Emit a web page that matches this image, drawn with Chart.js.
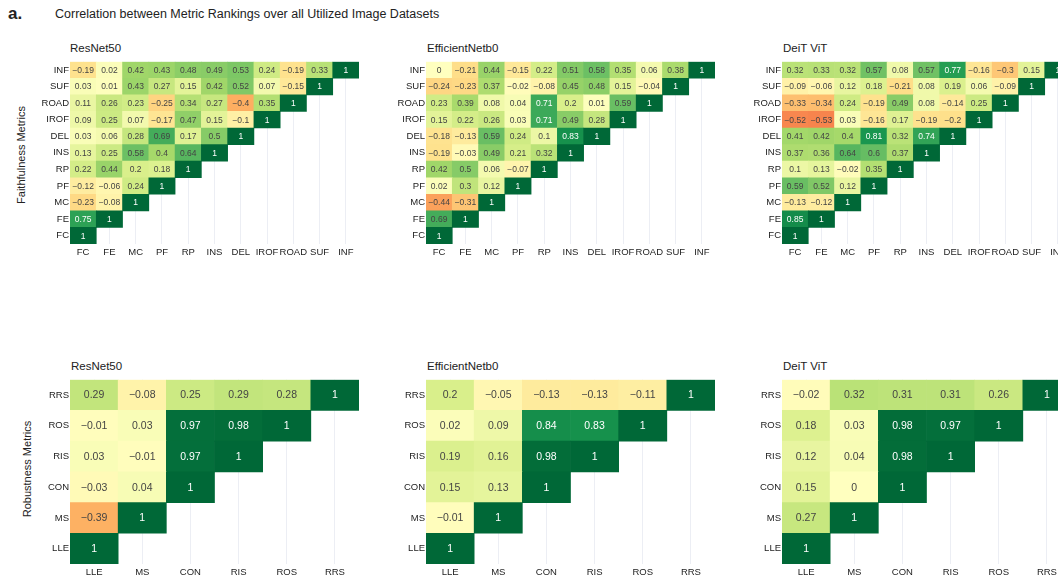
<!DOCTYPE html>
<html>
<head>
<meta charset="utf-8">
<script src="https://cdn.jsdelivr.net/npm/chart.js@4.4.1/dist/chart.umd.min.js"></script>
<style>
	html, body { margin: 0; padding: 0; background: #fff; }
	body { width: 1058px; height: 579px; overflow: hidden; position: relative; font-family: "Liberation Sans", Arial, sans-serif; color: #222; }
	canvas { position: absolute; }
	.t { position: absolute; white-space: nowrap; line-height: 1; }
	.ax { position: absolute; white-space: nowrap; line-height: 1; font-size: 11px; transform: translate(-50%, -50%) rotate(-90deg); }
</style>
</head>
<body>
<div class="t" style="left:8px;top:5px;font-size:17px;font-weight:bold;">a.</div>
<div class="t" style="left:55px;top:8px;font-size:12.5px;">Correlation between Metric Rankings over all Utilized Image Datasets</div>

<div class="ax" style="left:21px;top:155px;">Faithfulness Metrics</div>
<div class="ax" style="left:27px;top:469px;">Robustness Metrics</div>

<div class="t" style="left:70px;top:43px;font-size:11.5px;">ResNet50</div>
<div class="t" style="left:427px;top:43px;font-size:11.5px;">EfficientNetb0</div>
<div class="t" style="left:783px;top:43px;font-size:11.5px;">DeiT ViT</div>
<div class="t" style="left:71px;top:361px;font-size:11.5px;">ResNet50</div>
<div class="t" style="left:427px;top:361px;font-size:11.5px;">EfficientNetb0</div>
<div class="t" style="left:783px;top:361px;font-size:11.5px;">DeiT ViT</div>

<canvas id="f1"></canvas>
<canvas id="f2"></canvas>
<canvas id="f3"></canvas>
<canvas id="r1"></canvas>
<canvas id="r2"></canvas>
<canvas id="r3"></canvas>

<script>
// Metric names (bottom row of each matrix first)
const FAITH = ["FC", "FE", "MC", "PF", "RP", "INS", "DEL", "IROF", "ROAD", "SUF", "INF"];
const ROBUST = ["LLE", "MS", "CON", "RIS", "ROS", "RRS"];

// Lower triangles, one row per metric: correlations with the metrics before it
const faithResNet = [
	[1],
	[0.75, 1],
	[-0.23, -0.08, 1],
	[-0.12, -0.06, 0.24, 1],
	[0.22, 0.44, 0.2, 0.18, 1],
	[0.13, 0.25, 0.58, 0.4, 0.64, 1],
	[0.03, 0.06, 0.28, 0.69, 0.17, 0.5, 1],
	[0.09, 0.25, 0.07, -0.17, 0.47, 0.15, -0.1, 1],
	[0.11, 0.26, 0.23, -0.25, 0.34, 0.27, -0.4, 0.35, 1],
	[0.03, 0.01, 0.43, 0.27, 0.15, 0.42, 0.52, 0.07, -0.15, 1],
	[-0.19, 0.02, 0.42, 0.43, 0.48, 0.49, 0.53, 0.24, -0.19, 0.33, 1],
];
const faithEffNet = [
	[1],
	[0.69, 1],
	[-0.44, -0.31, 1],
	[0.02, 0.3, 0.12, 1],
	[0.42, 0.5, 0.06, -0.07, 1],
	[-0.19, -0.03, 0.49, 0.21, 0.32, 1],
	[-0.18, -0.13, 0.59, 0.24, 0.1, 0.83, 1],
	[0.15, 0.22, 0.26, 0.03, 0.71, 0.49, 0.28, 1],
	[0.23, 0.39, 0.08, 0.04, 0.71, 0.2, 0.01, 0.59, 1],
	[-0.24, -0.23, 0.37, -0.02, -0.08, 0.45, 0.48, 0.15, -0.04, 1],
	[0, -0.21, 0.44, -0.15, 0.22, 0.51, 0.58, 0.35, 0.06, 0.38, 1],
];
const faithDeit = [
	[1],
	[0.85, 1],
	[-0.13, -0.12, 1],
	[0.59, 0.52, 0.12, 1],
	[0.1, 0.13, -0.02, 0.35, 1],
	[0.37, 0.36, 0.64, 0.6, 0.37, 1],
	[0.41, 0.42, 0.4, 0.81, 0.32, 0.74, 1],
	[-0.52, -0.53, 0.03, -0.16, 0.17, -0.19, -0.2, 1],
	[-0.33, -0.34, 0.24, -0.19, 0.49, 0.08, -0.14, 0.25, 1],
	[-0.09, -0.06, 0.12, 0.18, -0.21, 0.08, 0.19, 0.06, -0.09, 1],
	[0.32, 0.33, 0.32, 0.57, 0.08, 0.57, 0.77, -0.16, -0.3, 0.15, 1],
];
const robResNet = [
	[1],
	[-0.39, 1],
	[-0.03, 0.04, 1],
	[0.03, -0.01, 0.97, 1],
	[-0.01, 0.03, 0.97, 0.98, 1],
	[0.29, -0.08, 0.25, 0.29, 0.28, 1],
];
const robEffNet = [
	[1],
	[-0.01, 1],
	[0.15, 0.13, 1],
	[0.19, 0.16, 0.98, 1],
	[0.02, 0.09, 0.84, 0.83, 1],
	[0.2, -0.05, -0.13, -0.13, -0.11, 1],
];
const robDeit = [
	[1],
	[0.27, 1],
	[0.15, 0, 1],
	[0.12, 0.04, 0.98, 1],
	[0.18, 0.03, 0.98, 0.97, 1],
	[-0.02, 0.32, 0.31, 0.31, 0.26, 1],
];

// RdYlGn over [-1, 1]
const STOPS = [
	[165, 0, 38], [215, 48, 39], [244, 109, 67], [253, 174, 97], [254, 224, 139], [255, 255, 191],
	[217, 239, 139], [166, 217, 106], [102, 189, 99], [26, 152, 80], [0, 104, 55],
];
const rdylgn = (v) => {
	const t = ((v + 1) / 2) * 10;
	const i = Math.min(9, Math.floor(t));
	const f = t - i;
	const a = STOPS[i], b = STOPS[i + 1];
	const c = a.map((x, k) => Math.round(x + (b[k] - x) * f));
	return `rgb(${c[0]}, ${c[1]}, ${c[2]})`;
};

Chart.defaults.font.family = "'Liberation Sans', Arial, sans-serif";
Chart.defaults.color = "#1c1c1c";

// Write the value in each cell
const cellText = {
	id: "cellText",
	afterDatasetsDraw(chart) {
		const ctx = chart.ctx;
		const size = chart.options.plugins.cellText.size;
		ctx.save();
		ctx.font = `${size}px 'Liberation Sans', Arial, sans-serif`;
		ctx.textAlign = "center";
		ctx.textBaseline = "middle";
		chart.data.datasets.forEach((ds, i) => {
			chart.getDatasetMeta(i).data.forEach((el, j) => {
				if (ds.data[j] == null) return;
				const v = ds.values[j];
				ctx.fillStyle = v >= 0.7 ? "#ffffff" : "#444444";
				ctx.fillText(String(v).replace("-", "\u2212"), el.x, (el.y + el.base) / 2 + 0.5);
			});
		});
		ctx.restore();
	},
};

const CHART_W = 289;
const AXIS_W = 50;
const AXIS_H = 16;

const heatmap = (id, labels, rows, left, top, height, textSize) => {
	const canvas = document.getElementById(id);
	canvas.width = AXIS_W + CHART_W;
	canvas.height = height + AXIS_H;
	canvas.style.left = left - AXIS_W + "px";
	canvas.style.top = top + "px";

	const datasets = rows.map((vals, i) => ({
		data: labels.map((_, j) => (j <= i ? [i, i + 1] : null)),
		backgroundColor: labels.map((_, j) => (j <= i ? rdylgn(vals[j]) : "rgba(0,0,0,0)")),
		values: vals,
		borderWidth: 0,
		barPercentage: 1,
		categoryPercentage: 1,
		grouped: false,
	}));

	new Chart(canvas, {
		type: "bar",
		data: { labels: labels, datasets: datasets },
		options: {
			responsive: false,
			animation: false,
			layout: { padding: 0 },
			plugins: {
				legend: { display: false },
				tooltip: { enabled: false },
				cellText: { size: textSize },
			},
			scales: {
				x: {
					border: { display: false },
					grid: { offset: false, color: "#eceef4", drawTicks: false },
					ticks: { font: { size: 9.5 }, padding: 3, autoSkip: false, maxRotation: 0, minRotation: 0 },
					afterFit: (s) => { s.height = AXIS_H; },
				},
				y: {
					min: 0,
					max: labels.length,
					border: { display: false },
					grid: { display: false, drawTicks: false },
					afterBuildTicks: (s) => { s.ticks = labels.map((_, k) => ({ value: k + 0.5 })); },
					ticks: { font: { size: 9.5 }, padding: 1, callback: (v, k) => labels[k] },
					afterFit: (s) => { s.width = AXIS_W; },
				},
			},
		},
		plugins: [cellText],
	});
};

heatmap("f1", FAITH, faithResNet, 70, 55, 189, 8.5);
heatmap("f2", FAITH, faithEffNet, 426, 55, 189, 8.5);
heatmap("f3", FAITH, faithDeit, 782, 55, 189, 8.5);
heatmap("r1", ROBUST, robResNet, 70, 373, 191, 10.5);
heatmap("r2", ROBUST, robEffNet, 426, 373, 191, 10.5);
heatmap("r3", ROBUST, robDeit, 782, 373, 191, 10.5);
</script>
</body>
</html>
